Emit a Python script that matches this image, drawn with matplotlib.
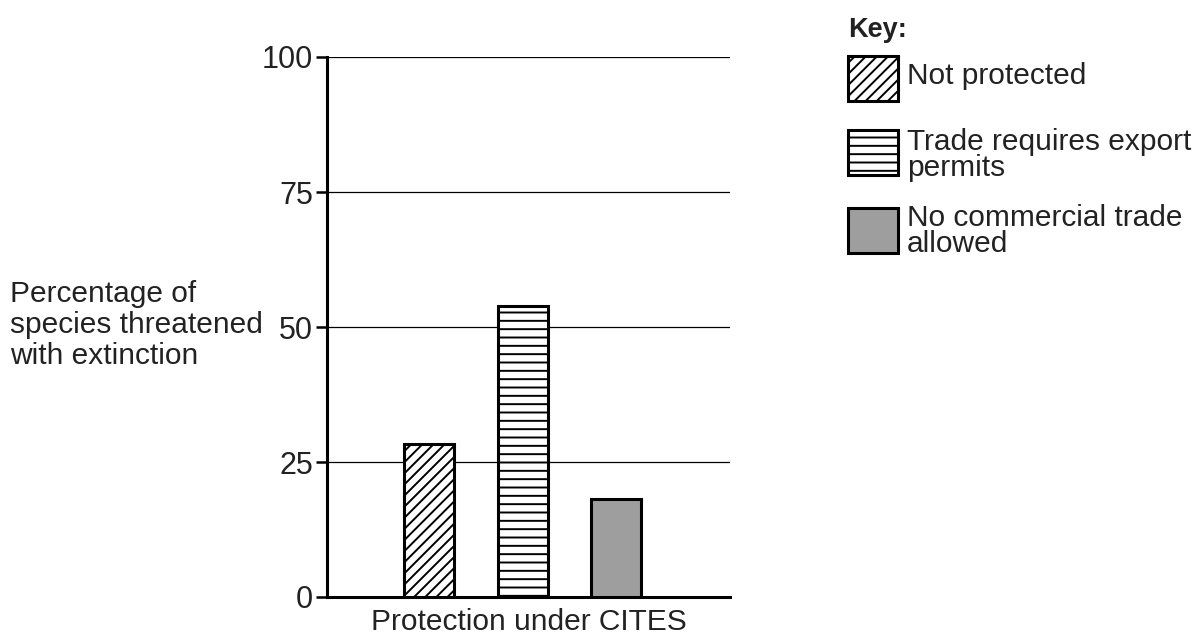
import matplotlib
matplotlib.use("Agg")
import matplotlib.pyplot as plt
import matplotlib.patches as patches

# data
categories = ["Not protected", "Trade requires export\npermits", "No commercial trade\nallowed"]
values = [28.4, 53.8, 18.2]
hatches = ["///", "--", ""]
fills = ["white", "white", "#9e9e9e"]
yticks = [0, 25, 50, 75, 100]

plt.rcParams['font.family'] = ['Liberation Sans', 'DejaVu Sans']
plt.rcParams['hatch.linewidth'] = 1.4
FS = 21.5
TXT = '#222222'
W, H = 1194, 638

fig = plt.figure(figsize=(W / 100, H / 100), dpi=100)
ax = fig.add_axes([327 / W, 1 - 597 / H, (730 - 327) / W, (597 - 57) / H])

x = list(range(len(values)))
ax.bar(x, values, width=0.535, color=fills, edgecolor='black',
       hatch=hatches, linewidth=2.2, zorder=3)

ax.set_ylim(0, 100)
ax.set_xlim(-1.091, 3.219)
ax.set_yticks(yticks)
ax.set_yticklabels([str(t) for t in yticks], fontsize=FS + 0.5, color=TXT)
ax.set_xticks([])
ax.tick_params(axis='y', direction='out', length=8, width=1.8, pad=2)
for t in yticks[1:]:
    ax.axhline(t, color='black', linewidth=0.9, zorder=1)

for s in ['top', 'right']:
    ax.spines[s].set_visible(False)
ax.spines['left'].set_linewidth(2.2)
ax.spines['bottom'].set_linewidth(2.2)

ax.set_xlabel("Protection under CITES", fontsize=FS, color=TXT, labelpad=8)
fig.text(10 / W, 1 - 325 / H, "Percentage of\nspecies threatened\nwith extinction",
         ha='left', va='center', fontsize=FS, color=TXT, linespacing=1.15)

# key drawn at the right of the figure
fig.text(848 / W, 1 - 30 / H, "Key:", ha='left', va='center', fontsize=FS - 2,
         fontweight='bold', color=TXT)
box_tops = [56, 130, 208]
text_centers = [76, 155, 231]
for i, lab in enumerate(categories):
    y0 = box_tops[i]
    rect = patches.Rectangle((848 / W, 1 - (y0 + 45) / H), 50 / W, 45 / H,
                             transform=fig.transFigure, facecolor=fills[i],
                             edgecolor='black', hatch=hatches[i], linewidth=2.2)
    fig.add_artist(rect)
    fig.text(907 / W, 1 - text_centers[i] / H, lab, ha='left', va='center',
             fontsize=FS, color=TXT, linespacing=0.95)

fig.savefig("out.png", dpi=100)
